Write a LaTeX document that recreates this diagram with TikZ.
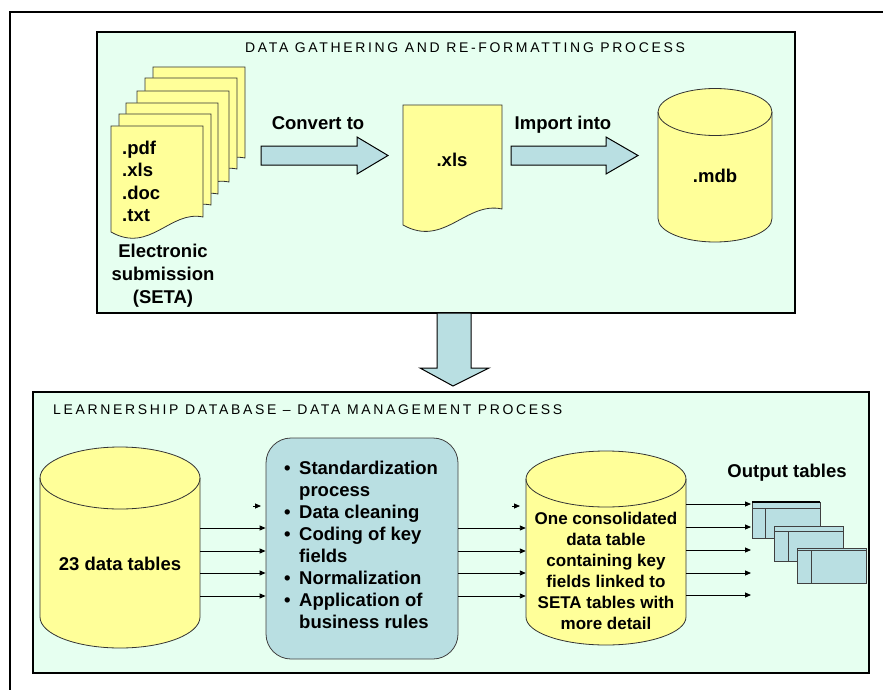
\documentclass[tikz,border=0pt]{standalone}
\usepackage{fontspec}
\setmainfont{Liberation Sans}
\newfontfamily\titlefont[LetterSpace=19]{Liberation Sans}
\usetikzlibrary{arrows.meta}
\definecolor{panelc}{HTML}{E6FFF0}
\definecolor{yelc}{HTML}{FFFF99}
\definecolor{bluc}{HTML}{B9DFE2}
\tikzset{pics/stackdoc/.style={code={\draw[docshape] (0,0) -- (92,0) -- (92,91) .. controls (59,84) and (39,128) .. (0,106) -- cycle;}}}
\begin{document}
\begin{tikzpicture}[x=1pt,y=-1pt,
 area/.style={inner sep=0pt,draw=none},
 panel/.style={area,draw=black,line width=2pt,fill=panelc},
 lbl/.style={font=\fontsize{18.5}{22.5}\selectfont\bfseries,inner sep=0pt},
 ttl/.style={font=\titlefont\fontsize{14}{16}\selectfont,inner sep=0pt},
 docshape/.style={draw=black!80,line width=0.8pt,fill=yelc},
 cyl/.style={draw=black!80,line width=0.8pt,fill=yelc},
 blockarrow/.style={draw=black,line width=1pt,fill=bluc},
 flow/.style={line width=0.9pt,-{Triangle[length=6pt,width=5pt]}},
 tbl/.style={area,draw=black!75,line width=0.8pt,fill=bluc}]
\useasboundingbox (0,0) rectangle (883,690);
% outer frame
\draw[line width=2pt] (883,12) -- (10,12) -- (10,690);
% panels
\node[panel,minimum width=698pt,minimum height=281pt] (top) at (446,172.5) {};
\node[panel,minimum width=836pt,minimum height=281pt] (bottom) at (451,532.5) {};
\node[ttl,anchor=base] (ttltop) at (465,53) {DATA GATHERING AND RE-FORMATTING PROCESS};
\node[ttl,anchor=base west] (ttlbot) at (53,414) {LEARNERSHIP DATABASE – DATA MANAGEMENT PROCESS};
% stack of documents
\pic at (153,67) {stackdoc};
\pic at (145,78) {stackdoc};
\pic at (137,91) {stackdoc};
\pic at (126,103) {stackdoc};
\pic at (119,114) {stackdoc};
\pic at (111,126) {stackdoc};
\node[lbl,anchor=base west] (doctext) at (122,154) {\begin{tabular}[t]{@{}l@{}}.pdf\\.xls\\.doc\\.txt\end{tabular}};
\node[lbl,anchor=base] (esub) at (163,257) {\fontsize{18.5}{23}\selectfont\begin{tabular}[t]{@{}c@{}}Electronic\\submission\\(SETA)\end{tabular}};
% xls document
\draw[docshape] (403,105) -- (502,105) -- (502,209) .. controls (466,201) and (444,248) .. (403,225) -- cycle;
\node[lbl,anchor=base] (xls) at (452,166) {.xls};
% mdb cylinder
\path[cyl] (658,112) -- (658,218.5) arc[start angle=180,end angle=360,x radius=57pt,y radius=23.5pt] -- (772,112) arc[start angle=0,end angle=180,x radius=57pt,y radius=23.5pt] -- cycle;
\draw[cyl,fill=none] (658,112) arc[start angle=180,end angle=360,x radius=57pt,y radius=23.5pt];
\node[lbl,anchor=base] (mdb) at (715,182) {.mdb};
% block arrows
\draw[blockarrow] (261,146) -- (357,146) -- (357,137) -- (388,155.5) -- (357,174) -- (357,165) -- (261,165) -- cycle;
\node[lbl,anchor=base] (conv) at (318,129) {Convert to};
\draw[blockarrow] (511,146) -- (606,146) -- (606,137) -- (638,155.5) -- (606,174) -- (606,165) -- (511,165) -- cycle;
\node[lbl,anchor=base] (imp) at (563,129) {Import into};
% down arrow
\draw[blockarrow] (437,313) -- (471,313) -- (471,368) -- (489,368) -- (453,386) -- (420,368) -- (437,368) -- cycle;
% cylinder 1
\node[area,minimum width=160pt,minimum height=201pt] (db1) at (120,547.5) {};
\path[cyl] (40,478) -- (40,617) arc[start angle=180,end angle=360,x radius=80pt,y radius=31pt] -- (200,478) arc[start angle=0,end angle=180,x radius=80pt,y radius=31pt] -- cycle;
\draw[cyl,fill=none] (40,478) arc[start angle=180,end angle=360,x radius=80pt,y radius=31pt];
\node[lbl,anchor=base] (t23) at (120,570) {23 data tables};
% process box
\node[area,draw=black!75,line width=0.8pt,fill=bluc,rounded corners=25pt,minimum width=192pt,minimum height=221pt] (proc) at (362,548.5) {};
\node[lbl,anchor=base west] (proctext) at (284,474) {\fontsize{18.5}{22}\selectfont\begin{tabular}[t]{@{}l@{}}
\makebox[15pt][l]{\textbullet}Standardization\\
\hspace*{15pt}process\\
\makebox[15pt][l]{\textbullet}Data cleaning\\
\makebox[15pt][l]{\textbullet}Coding of key\\
\hspace*{15pt}fields\\
\makebox[15pt][l]{\textbullet}Normalization\\
\makebox[15pt][l]{\textbullet}Application of\\
\hspace*{15pt}business rules\end{tabular}};
% cylinder 2
\node[area,minimum width=160pt,minimum height=194pt] (db2) at (606,548) {};
\path[cyl] (526,479) -- (526,617) arc[start angle=180,end angle=360,x radius=80pt,y radius=28pt] -- (686,479) arc[start angle=0,end angle=180,x radius=80pt,y radius=28pt] -- cycle;
\draw[cyl,fill=none] (526,479) arc[start angle=180,end angle=360,x radius=80pt,y radius=28pt];
\node[lbl,anchor=base] (cons) at (606,524) {\fontsize{17}{21}\selectfont\begin{tabular}[t]{@{}c@{}}One consolidated\\data table\\containing key\\fields linked to\\SETA tables with\\more detail\end{tabular}};
% flows db1 -> proc
\coordinate (s1a) at (253,506); \coordinate (s1b) at (261,506);
\draw[flow] (s1a) -- (s1b);
\foreach \yy in {528,551,573,596} \draw[flow] (db1.east |- 0,\yy) -- (proc.west |- 0,\yy);
% flows proc -> db2
\coordinate (s2a) at (512,506); \coordinate (s2b) at (520,506);
\draw[flow] (s2a) -- (s2b);
\foreach \yy in {528,551,573,596} \draw[flow] (proc.east |- 0,\yy) -- (db2.west |- 0,\yy);
% flows db2 -> output
\coordinate (outx) at (751,0);
\foreach \yy in {504,527,550,573,595} \draw[flow] (db2.east |- 0,\yy) -- (outx |- 0,\yy);
% output tables
\node[lbl,anchor=base] (outt) at (787,477) {Output tables};
\node[tbl,minimum width=68pt,minimum height=36pt] (tb1) at (786,520) {};
\draw[black!75,line width=0.8pt] (752,508) -- (820,508) (765,508) -- (765,538);
\draw[black,line width=1.2pt] (752,502) -- (820,502);
\node[tbl,minimum width=69pt,minimum height=35pt] (tb2) at (808.5,543.5) {};
\draw[black!75,line width=0.8pt] (774,531) -- (843,531) (788,531) -- (788,561);
\node[tbl,minimum width=69pt,minimum height=35pt] (tb3) at (831.5,565.5) {};
\draw[black!75,line width=0.8pt] (797,550) -- (866,550) (811,550) -- (811,583);
\end{tikzpicture}
\end{document}
